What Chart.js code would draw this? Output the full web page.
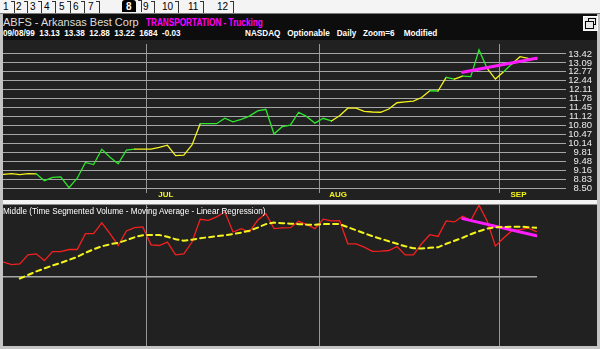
<!DOCTYPE html>
<html lang="en">
<head>
<meta charset="utf-8">
<title>ABFS - Arkansas Best Corp</title>
<script src="https://cdn.jsdelivr.net/npm/chart.js@4.4.1/dist/chart.umd.min.js"></script>
<style>
  html, body { margin: 0; padding: 0; }
  body { position: relative; width: 600px; height: 349px; overflow: hidden; background: #c4c4c4; font-family: "Liberation Sans", Arial, sans-serif; }
  .abs { position: absolute; }
  #tabbar { left: 0; top: 0; width: 600px; height: 13px; background: #f4f4f4; border-bottom: 1px solid #7a7a7a; }
  .tab { position: absolute; top: 1px; font-size: 10px; line-height: 11px; color: #000; }
  .tab::after { content: ''; position: absolute; right: -6px; top: 0; width: 3px; height: 11px; border-top: 1px solid #333; border-right: 1px solid #333; }
  .tab.on { top: 0; background: #000; color: #fff; font-weight: bold; padding: 1px 4px 0; border-radius: 3px 3px 0 0; }
  #header { left: 3px; top: 14px; width: 594px; height: 26px; background: #0d0d0d; }
  .txt { position: absolute; white-space: pre; transform-origin: 0 0; }
  #icon { left: 580px; top: 2px; width: 13px; height: 13px; background: #e8e8e8; border: 1px solid #fff; }
  #icon div { position: absolute; border: 1px solid #000; background: #e8e8e8; }
  #topPanel { left: 3px; top: 40px; width: 594px; height: 160px; background: #212121; }
  #sep { left: 3px; top: 200px; width: 594px; height: 4px; background: #f4f4f4; }
  #botPanel { left: 3px; top: 204px; width: 594px; height: 141px; background: #212121; border-top: 1px solid #8c8c8c; }
  canvas { position: absolute; left: 0; }
  #priceChart { top: 40px; }
  #tsvChart { top: 205px; }
  #botTitle { left: 3px; top: 205px; color: #fff; font-size: 9.5px; transform: scaleX(0.86); z-index: 2; }
</style>
</head>
<body>
<div id="tabbar" class="abs">
  <span class="tab" style="left:3px">1</span>
  <span class="tab" style="left:16px">2</span>
  <span class="tab" style="left:30px">3</span>
  <span class="tab" style="left:44px">4</span>
  <span class="tab" style="left:59px">5</span>
  <span class="tab" style="left:73px">6</span>
  <span class="tab" style="left:88px">7</span>
  <span class="tab on" style="left:122px">8</span>
  <span class="tab" style="left:143px">9</span>
  <span class="tab" style="left:162px">10</span>
  <span class="tab" style="left:188px">11</span>
  <span class="tab" style="left:217px">12</span>
</div>
<div id="header" class="abs">
  <span class="txt" style="left:0;top:2px;color:#dcdcdc;font-size:11px">ABFS - Arkansas Best Corp</span>
  <span class="txt" style="left:143px;top:3px;color:#ff00ff;font-size:10px;font-weight:bold;transform:scaleX(0.82)">TRANSPORTATION - Trucking</span>
  <span class="txt" style="left:0;top:13px;color:#fff;font-size:9.5px;font-weight:bold;transform:scaleX(0.86)">09/08/99  13.13  13.38  12.88  13.22  1684  -0.03</span>
  <span class="txt" style="left:242px;top:13px;color:#fff;font-size:9.5px;font-weight:bold;transform:scaleX(0.86)">NASDAQ   Optionable   Daily   Zoom=6    Modified</span>
  <div id="icon" class="abs"><div style="left:4px;top:1px;width:6px;height:5px"></div><div style="left:1px;top:4px;width:7px;height:6px"></div></div>
</div>
<div id="topPanel" class="abs"></div>
<div id="sep" class="abs"></div>
<div id="botPanel" class="abs"></div>
<canvas id="priceChart" width="600" height="159"></canvas>
<canvas id="tsvChart" width="600" height="141"></canvas>
<span id="botTitle" class="txt">Middle (Time Segmented Volume - Moving Average - Linear Regression)</span>

<script>
// Daily closes, 66 trading days ending 09/08/99
const priceValues = [9.00, 9.03, 8.99, 9.03, 9.02, 8.77, 8.89, 8.91, 8.51, 8.86,
    9.44, 9.36, 9.92, 9.63, 9.39, 9.89, 9.93, 9.93, 9.93, 9.99,
    10.07, 9.69, 9.71, 10.08, 10.86, 10.86, 10.86, 11.06, 10.93, 11.02,
    11.14, 11.33, 11.39, 10.48, 10.75, 10.81, 11.28, 11.12, 10.88, 11.06,
    10.96, 11.15, 11.43, 11.43, 11.31, 11.29, 11.28, 11.40, 11.63, 11.66,
    11.69, 11.82, 12.07, 12.06, 12.56, 12.50, 12.61, 12.59, 13.57, 12.89,
    12.50, 12.77, 13.05, 13.32, 13.26, 13.22];

// 1 = up state (green) for the segment that starts on that day, 0 = yellow
const trendUp = [0, 0, 0, 0, 1, 1, 1, 1, 1, 1, 1, 1, 1, 1, 1, 1,
    0, 0, 0, 0, 0, 0, 0, 0,
    1, 1, 1, 1, 1, 1, 1, 1, 1, 1, 1, 1, 1, 1, 1, 1,
    0, 0, 0, 0, 0, 0, 0, 0, 0, 0, 0, 0,
    1, 0, 1, 0, 1, 1, 1, 0, 0, 1, 0, 0, 0];

// Time Segmented Volume and its moving average
const tsvValues = [14.7, 12.3, 13, 22, 23, 16.3, 25.3, 25.3, 27.3, 27.3,
    43, 43, 53.7, 43, 31.3, 45.7, 49, 49.7, 32, 31.3,
    34.7, 22, 23, 34.7, 57.3, 56.3, 59.7, 64.7, 44.7, 48,
    44.7, 56.3, 63, 48, 48.7, 49, 55.3, 52, 48, 57.5,
    55.7, 56, 33, 33, 29.7, 25.5, 25.7, 26.3, 30.3, 22,
    22, 33, 42, 40.3, 55.7, 54.7, 60.3, 56.3, 71.3, 55.3,
    30.7, 38.7, 46, 47, 48.5, 45];

const maValues = [null, null, -1.5, 2, 5.5, 8.5, 11.5, 14, 17, 20,
    24, 27.5, 30.5, 32.5, 34, 36.5, 39.5, 41.5, 41.7, 41.7,
    40, 37.5, 36, 37, 38.5, 39.5, 40.5, 41.5, 42.7, 44,
    46, 49, 52.5, 54, 53.5, 53, 52.5, 52, 52, 52.5,
    52.7, 52.5, 49.5, 46.5, 43.5, 40.5, 38, 35.5, 33, 30.5,
    28.5, 28.2, 29, 29.5, 33, 36, 39, 42.5, 45.5, 48,
    49.5, 49.7, 50, 50, 49.5, 49];

// Linear regression end points (first day, last day)
const regDays = [56, 65];
const priceReg = [12.75, 13.26];
const tsvReg = [58, 41];

const monthLabels = ['JUL', 'AUG', 'SEP'];
const monthStarts = [18, 39, 61];
const priceTicks = ['13.42', '13.09', '12.77', '12.44', '12.11', '11.78', '11.45', '11.12',
    '10.80', '10.47', '10.14', '9.81', '9.48', '9.16', '8.83', '8.50'];

const GREEN = '#2ee62e';
const YELLOW = '#f4f41c';
const RED = '#f42020';
const MAGENTA = '#ff1cff';
const GRID = '#a6a6a6';

const xy = (vals) => vals.map((v, i) => ({ x: i, y: v }));
const monthTickValues = () => monthStarts.map(d => ({ value: d - 0.5 }));
const noPad = (s) => { s.paddingTop = 0; s.paddingBottom = 0; s.paddingLeft = 0; s.paddingRight = 0; };

const baseOptions = {
    responsive: false,
    animation: false,
    events: [],
    elements: { point: { radius: 0 }, line: { tension: 0, borderCapStyle: 'round' } },
    plugins: { legend: { display: false }, tooltip: { enabled: false } }
};

new Chart(document.getElementById('priceChart'), {
    type: 'line',
    data: {
        datasets: [
            {
                data: regDays.map((d, k) => ({ x: d, y: priceReg[k] })),
                borderColor: MAGENTA,
                borderWidth: 3,
                order: 0
            },
            {
                data: xy(priceValues),
                borderWidth: 1.3,
                order: 1,
                segment: { borderColor: c => trendUp[c.p0DataIndex] ? GREEN : YELLOW }
            }
        ]
    },
    options: {
        ...baseOptions,
        layout: { padding: { left: 3, top: 4, right: 8, bottom: 0 } },
        scales: {
            x: {
                type: 'linear',
                min: -0.05,
                max: 68.49,
                afterBuildTicks: s => { s.ticks = monthTickValues(); },
                afterFit: s => { s.height = 10; noPad(s); },
                ticks: {
                    autoSkip: false,
                    maxRotation: 0,
                    labelOffset: 19,
                    padding: -3,
                    color: YELLOW,
                    font: { family: 'Liberation Sans', size: 8, weight: 'bold' },
                    callback: v => monthLabels[monthStarts.indexOf(v + 0.5)]
                },
                grid: { color: '#969696', lineWidth: 1, drawTicks: true, tickLength: 4 },
                border: { display: false }
            },
            y: {
                position: 'right',
                min: 8.4633,
                max: 13.786,
                afterBuildTicks: s => { s.ticks = priceTicks.map(t => ({ value: parseFloat(t) })); },
                afterFit: s => { s.width = 27; noPad(s); },
                ticks: {
                    autoSkip: false,
                    crossAlign: 'far',
                    padding: 1,
                    color: '#ececec',
                    font: { family: 'Liberation Sans', size: 9.5 },
                    callback: v => priceTicks.find(t => parseFloat(t) === v)
                },
                grid: { color: GRID, lineWidth: 1, tickLength: 1 },
                border: { display: false }
            }
        }
    }
});

new Chart(document.getElementById('tsvChart'), {
    type: 'line',
    data: {
        datasets: [
            {
                data: xy(maValues),
                borderColor: YELLOW,
                borderWidth: 2,
                borderDash: [5, 4],
                spanGaps: false,
                order: 0
            },
            {
                data: regDays.map((d, k) => ({ x: d, y: tsvReg[k] })),
                borderColor: MAGENTA,
                borderWidth: 3,
                order: 1
            },
            {
                data: xy(tsvValues),
                borderColor: RED,
                borderWidth: 1.3,
                order: 2
            }
        ]
    },
    options: {
        ...baseOptions,
        layout: { padding: { left: 3, top: 0, right: 63, bottom: 0 } },
        scales: {
            x: {
                type: 'linear',
                min: -0.05,
                max: 65.07,
                afterBuildTicks: s => { s.ticks = monthTickValues(); },
                afterFit: s => { s.height = 0; noPad(s); },
                ticks: { display: false },
                grid: { color: '#969696', lineWidth: 1, drawTicks: false },
                border: { display: false }
            },
            y: {
                min: -68.5,
                max: 71.5,
                afterBuildTicks: s => { s.ticks = [{ value: 0 }]; },
                afterFit: s => { s.width = 0; noPad(s); },
                ticks: { display: false },
                grid: { color: GRID, lineWidth: 1.5, drawTicks: false },
                border: { display: false }
            }
        }
    }
});
</script>
</body>
</html>
